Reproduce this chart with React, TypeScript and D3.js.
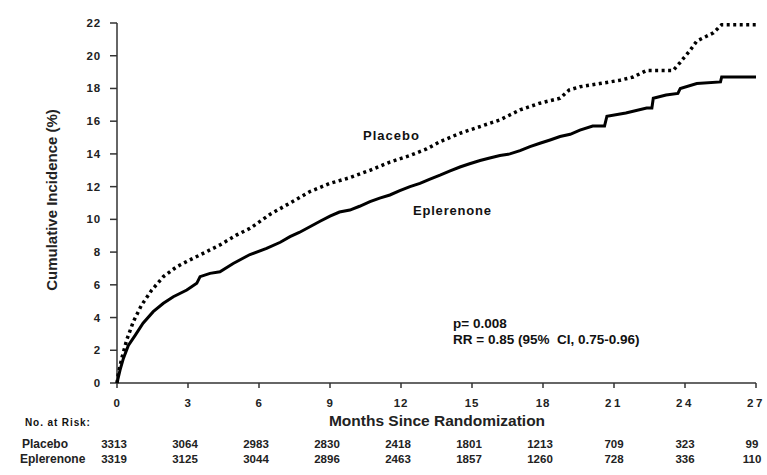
import React from "react";
import * as d3 from "d3";

const xTicks = [0, 3, 6, 9, 12, 15, 18, 21, 24, 27];
const yTicks = [0, 2, 4, 6, 8, 10, 12, 14, 16, 18, 20, 22];

const eplMonths = [0, 0.13, 0.27, 0.48, 0.76, 1.1, 1.53, 1.96, 2.38, 2.95, 3.37, 3.51, 3.93, 4.35, 4.91, 5.62, 6.32, 6.9, 7.31, 7.7, 8.15, 8.6, 9.0, 9.4, 9.84, 10.25, 10.69, 11.1, 11.53, 11.95, 12.38, 12.8, 13.2, 13.65, 14.05, 14.49, 14.9, 15.34, 15.75, 16.18, 16.6, 17.03, 17.45, 17.87, 18.3, 18.72, 19.15, 19.56, 20.1, 20.6, 20.7, 21.5, 22.38, 22.6, 22.66, 23.2, 23.7, 23.8, 24.5, 25.5, 25.55, 27.0];
const eplValues = [0, 0.8, 1.5, 2.3, 2.9, 3.65, 4.36, 4.87, 5.27, 5.68, 6.09, 6.5, 6.7, 6.8, 7.3, 7.85, 8.23, 8.6, 8.94, 9.2, 9.55, 9.9, 10.2, 10.45, 10.57, 10.8, 11.08, 11.3, 11.49, 11.75, 12.0, 12.2, 12.45, 12.7, 12.95, 13.2, 13.4, 13.6, 13.75, 13.9, 14.0, 14.2, 14.45, 14.65, 14.85, 15.06, 15.2, 15.45, 15.7, 15.7, 16.3, 16.5, 16.8, 16.8, 17.4, 17.6, 17.7, 18.0, 18.3, 18.4, 18.7, 18.7];

const plaMonths = [0, 0.06, 0.2, 0.41, 0.69, 1.04, 1.47, 1.96, 2.52, 3.08, 3.79, 4.35, 5.06, 5.62, 6.46, 7.31, 8.15, 9.0, 9.84, 10.69, 11.53, 12.38, 13.08, 13.65, 14.49, 15.34, 16.18, 17.03, 17.87, 18.72, 19.1, 19.56, 20.4, 21.25, 21.81, 22.38, 23.5, 23.8, 24.2, 24.5, 25.2, 25.55, 27.0];
const plaValues = [0, 0.6, 1.5, 2.63, 3.75, 4.77, 5.68, 6.5, 7.1, 7.52, 8.03, 8.44, 9.05, 9.45, 10.3, 11.0, 11.7, 12.2, 12.55, 13.0, 13.5, 13.9, 14.3, 14.75, 15.26, 15.67, 16.08, 16.69, 17.1, 17.4, 17.9, 18.1, 18.3, 18.5, 18.7, 19.1, 19.1, 19.6, 20.3, 20.9, 21.4, 21.9, 21.9];

const riskPlacebo = [3313, 3064, 2983, 2830, 2418, 1801, 1213, 709, 323, 99];
const riskEplerenone = [3319, 3125, 3044, 2896, 2463, 1857, 1260, 728, 336, 110];

const FONT = "'Liberation Sans', Arial, sans-serif";

export default function App() {
  const x = d3.scaleLinear().domain([0, 27]).range([117, 756]);
  const y = d3.scaleLinear().domain([0, 22]).range([383, 23]);

  const eplData = eplMonths.map((m, i) => [m, eplValues[i]] as [number, number]);
  const plaData = plaMonths.map((m, i) => [m, plaValues[i]] as [number, number]);

  const line = d3.line<[number, number]>().x(d => x(d[0])).y(d => y(d[1])).curve(d3.curveLinear);

  const riskX = (v: number, i: number) => {
    const s = String(v).length;
    if (i === xTicks.length - 1) return x(xTicks[i]) - 4;
    return x(xTicks[i]) - (s === 4 ? 3 : 0);
  };

  return (
    <svg width={767} height={475} style={{ position: "absolute", left: 0, top: 0, background: "#fff" }} fontFamily={FONT}>
      <rect x={0} y={0} width={767} height={475} fill="#fff" />
      {/* y axis */}
      <line x1={x(0)} x2={x(0)} y1={y(0)} y2={y(22)} stroke="#333" strokeWidth={1.5} />
      {yTicks.map(t => (
        <g key={"y" + t}>
          <line x1={x(0) - 7} x2={x(0)} y1={y(t)} y2={y(t)} stroke="#333" strokeWidth={1.5} />
          <text x={101} y={y(t) + 4} textAnchor="end" fontSize={11.5} fontWeight="bold" fill="#222" letterSpacing={0.8}>{t}</text>
        </g>
      ))}
      {/* x axis */}
      <line x1={x(0)} x2={x(27)} y1={y(0)} y2={y(0)} stroke="#333" strokeWidth={1.5} />
      {xTicks.map(t => (
        <g key={"x" + t}>
          <line x1={x(t)} x2={x(t)} y1={y(0)} y2={y(0) + 5} stroke="#333" strokeWidth={1.5} />
          <text x={x(t)} y={407} textAnchor="middle" fontSize={11.5} fontWeight="bold" fill="#222" letterSpacing={t >= 21 ? 2.5 : 0.8}>{t}</text>
        </g>
      ))}
      {/* axis titles */}
      <text transform={`translate(57,200) rotate(-90)`} textAnchor="middle" fontSize={15} fontWeight="bold" fill="#222">Cumulative Incidence (%)</text>
      <text x={437} y={426} textAnchor="middle" fontSize={15.5} fontWeight="bold" fill="#222">Months Since Randomization</text>
      <text x={25} y={426} fontSize={10} fontWeight="900" fill="#111" letterSpacing={0.9}>No. at Risk:</text>

      {/* curves */}
      <path d={line(plaData) || ""} fill="none" stroke="#000" strokeWidth={3.5} strokeDasharray="3,3.5" />
      <path d={line(eplData) || ""} fill="none" stroke="#000" strokeWidth={3} strokeLinejoin="miter" />

      {/* labels */}
      <text x={363} y={140} fontSize={13} fontWeight="bold" fill="#111" letterSpacing={1}>Placebo</text>
      <text x={413} y={215} fontSize={13} fontWeight="bold" fill="#111" letterSpacing={0.8}>Eplerenone</text>
      <text x={453} y={328} fontSize={13.5} fontWeight="bold" fill="#111">p= 0.008</text>
      <text x={453} y={344} fontSize={13.5} fontWeight="bold" fill="#111" xmlSpace="preserve">RR = 0.85 (95%  CI, 0.75-0.96)</text>

      {/* risk table */}
      <text x={22} y={448} fontSize={12} fontWeight="bold" fill="#222">Placebo</text>
      <text x={20} y={463} fontSize={12} fontWeight="bold" fill="#222">Eplerenone</text>
      {riskPlacebo.map((v, i) => (
        <text key={"rp" + i} x={riskX(v, i)} y={448} textAnchor="middle" fontSize={11.5} fontWeight="bold" fill="#222">{v}</text>
      ))}
      {riskEplerenone.map((v, i) => (
        <text key={"re" + i} x={riskX(v, i)} y={463} textAnchor="middle" fontSize={11.5} fontWeight="bold" fill="#222">{v}</text>
      ))}
    </svg>
  );
}
